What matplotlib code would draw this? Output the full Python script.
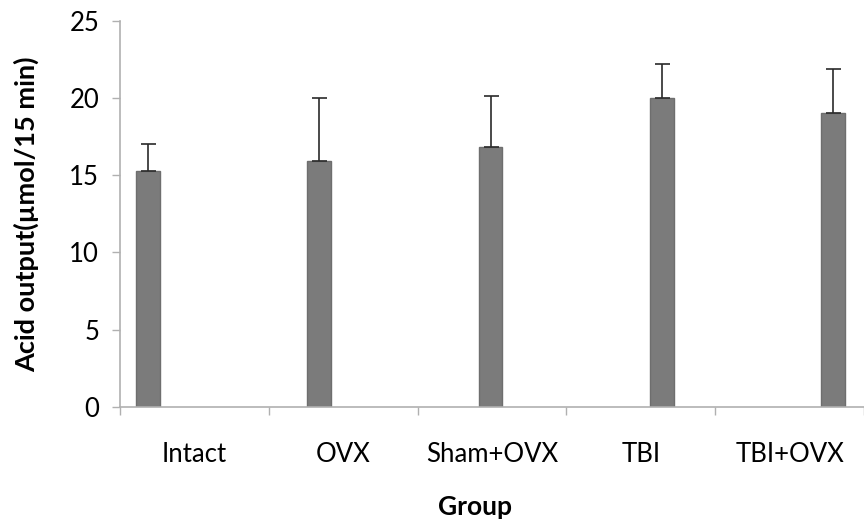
"""Acid output by group: bar chart with upper error bars."""
import matplotlib
matplotlib.use('Agg')
import matplotlib.pyplot as plt
import numpy as np

groups = ['Intact', 'OVX', 'Sham+OVX', 'TBI', 'TBI+OVX']
means = [15.3, 15.9, 16.8, 20.0, 19.0]
errors = [1.75, 4.1, 3.35, 2.2, 2.9]
yticks = [0, 5, 10, 15, 20, 25]


def main():
    plt.rcParams['font.family'] = ['Lato', 'DejaVu Sans']
    fig = plt.figure(figsize=(8.64, 5.22), dpi=100)
    ax = fig.add_axes([120 / 864, 1 - 407 / 522, 744 / 864, (407 - 20.7) / 522])

    # category slots are 150 px wide, bars are spaced 173 px apart (as in the source)
    slot = 150.2
    x = (148 - 120) / slot + np.arange(len(groups)) * 173 / slot
    ax.bar(x, means, width=24 / slot, color='#7b7b7b', edgecolor='#6e6e6e', linewidth=1.0, zorder=2)
    ax.errorbar(x, means, yerr=[np.zeros(len(errors)), errors], fmt='none',
                ecolor='#2a2a2a', elinewidth=1.2, capsize=5.4, capthick=1.2, zorder=3)

    ax.set_xlim(0, 744 / slot)
    ax.set_ylim(0, 25)
    ax.set_yticks(yticks)
    ax.set_xticks(np.arange(len(groups) + 1))
    ax.set_xticklabels([])
    ax.set_xticks(np.arange(len(groups)) + 0.5, minor=True)
    ax.set_xticklabels(groups, minor=True)

    for s in ['top', 'right']:
        ax.spines[s].set_visible(False)
    for s in ['left', 'bottom']:
        ax.spines[s].set_color('#b0b0b0')
        ax.spines[s].set_linewidth(1.2)
    ax.tick_params(axis='y', length=6, width=1.0, color='#b0b0b0', labelsize=18.5, pad=9)
    ax.tick_params(axis='x', which='major', length=6, width=1.0, color='#b0b0b0')
    ax.tick_params(axis='x', which='minor', length=0, labelsize=18.5, pad=25)

    fig.text(26 / 864, 1 - 214 / 522, 'Acid output(µmol/15 min)', rotation=90,
             ha='center', va='center', fontsize=19.5, fontweight='bold')
    fig.text(475 / 864, 1 - 515 / 522, 'Group', ha='center', va='baseline',
             fontsize=19, fontweight='bold')

    fig.savefig('out.png', dpi=100)


if __name__ == '__main__':
    main()
